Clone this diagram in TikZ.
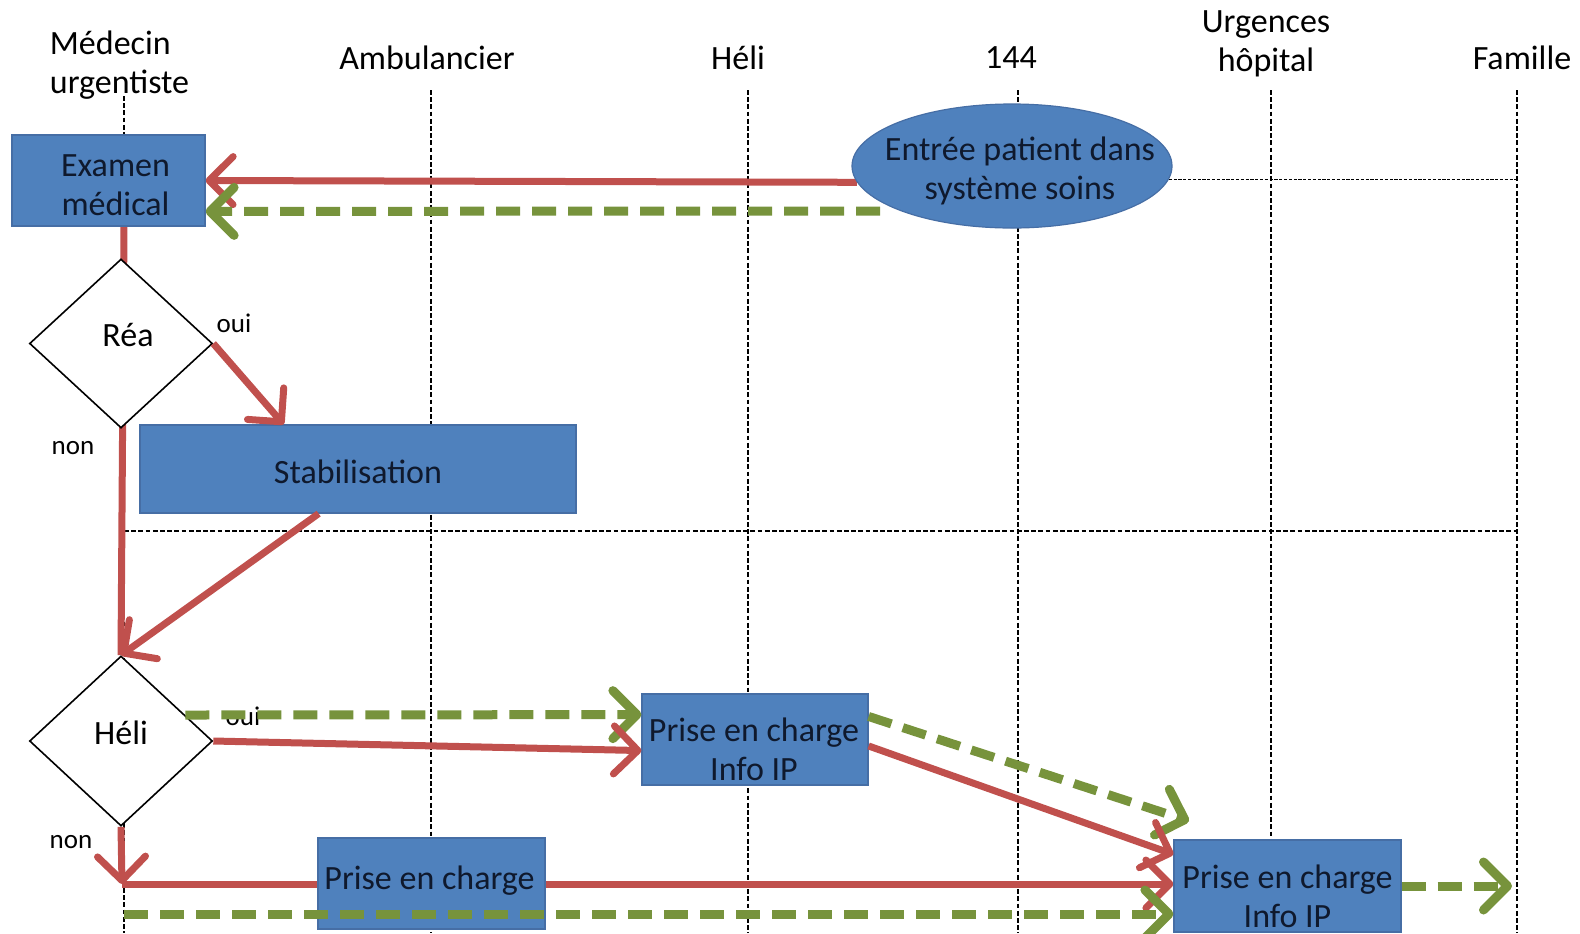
\documentclass[tikz,border=0pt]{standalone}
\usepackage{fontspec}
\setmainfont{Carlito}
\usetikzlibrary{arrows.meta,shapes.geometric,calc}
\pgfdeclarelayer{lanes}
\pgfdeclarelayer{under}
\pgfdeclarelayer{over}
\pgfsetlayers{lanes,under,main,over}
\definecolor{boxblue}{RGB}{79,129,189}
\definecolor{boxedge}{RGB}{70,110,165}
\definecolor{arrred}{RGB}{192,80,77}
\definecolor{arrgreen}{RGB}{119,147,60}
\definecolor{txtdark}{RGB}{15,25,45}
\newcommand\fbig{\fontsize{17}{19.5}\selectfont}
\newcommand\fsmall{\fontsize{13.5}{16}\selectfont}
\tikzset{
  lane/.style={black, line width=0.8pt, dash pattern=on 2.4pt off 1.2pt},
  thindot/.style={black, line width=0.65pt, dash pattern=on 1.6pt off 0.8pt},
  bluebox/.style={rectangle, fill=boxblue, draw=boxedge, line width=0.6pt, inner sep=0pt},
  blueellipse/.style={ellipse, fill=boxblue, draw=boxedge, line width=0.6pt, inner sep=0pt},
  boxtxt/.style={text=txtdark, align=center, font=\fbig, inner sep=0pt},
  dtxt/.style={text=black, align=center, font=\fbig, inner sep=0pt},
  decision/.style={diamond, draw=black, fill=white, line width=0.8pt, inner sep=0pt},
  hdr/.style={align=center, font=\fbig, inner sep=0pt, text=black},
  smalllbl/.style={font=\fsmall, inner sep=0pt, text=black},
  redln/.style={draw=arrred, line width=3.5pt},
  redarr/.style={draw=arrred, line width=3.5pt, -{Straight Barb[length=12pt,width=24pt,round]}},
  grnarr/.style={draw=arrgreen, line width=4.5pt, dash pattern=on 12pt off 6pt, -{Straight Barb[length=12pt,width=24pt,round]}}
}
\begin{document}
\begin{tikzpicture}[x=0.5pt,y=-0.5pt]
\useasboundingbox (0,0) rectangle (1580,933);
% headers
\node[hdr, align=left, anchor=west] (hmed) at (49.5,65) {Médecin\\urgentiste};
\node[hdr] (hamb) at (427,57.5) {Ambulancier};
\node[hdr] (hheli) at (738,57.5) {Héli};
\node[hdr] (h144) at (1011,57.5) {144};
\node[hdr] (hurg) at (1266,44) {Urgences\\hôpital};
\node[hdr] (hfam) at (1522,57.5) {Famille};
% lane coordinates
\coordinate (l1t) at (124,96);   \coordinate (l1b) at (124,933);
\coordinate (l2t) at (431,90);   \coordinate (l2b) at (431,933);
\coordinate (l3t) at (748,90);   \coordinate (l3b) at (748,933);
\coordinate (l4t) at (1018,90);  \coordinate (l4b) at (1018,933);
\coordinate (l5t) at (1271,90);  \coordinate (l5b) at (1271,933);
\coordinate (l6t) at (1517,90);  \coordinate (l6b) at (1517,933);
\coordinate (sepL) at (124,531); \coordinate (sepR) at (1517,531);
% nodes
\node[bluebox, minimum width=96.5pt, minimum height=45.5pt,
      label={[boxtxt, xshift=3.5pt, yshift=-2.2pt]center:{Examen\\médical}}] (exam) at (108.5,180.5) {};
\node[blueellipse, minimum width=160pt, minimum height=62pt,
      label={[boxtxt, xshift=4pt, yshift=-2.5pt]center:{Entrée patient dans\\système soins}}] (entree) at (1012,166) {};
\node[decision, minimum width=91.5pt, minimum height=84.5pt,
      label={[dtxt, xshift=3.5pt, yshift=4pt]center:{Réa}}] (rea) at (121,343.5) {};
\node[bluebox, minimum width=218pt, minimum height=44pt,
      label={[boxtxt, yshift=-1.5pt]center:{Stabilisation}}] (stab) at (358,469) {};
\node[decision, minimum width=91.5pt, minimum height=85pt,
      label={[dtxt, yshift=4pt]center:{Héli}}] (heli) at (121,741) {};
\node[bluebox, minimum width=113pt, minimum height=45.5pt,
      label={[boxtxt, xshift=-0.5pt, yshift=-5pt]center:{Prise en charge\\Info IP}}] (pic1) at (755,739.5) {};
\node[bluebox, minimum width=113.5pt, minimum height=45.5pt,
      label={[boxtxt, xshift=-1pt, yshift=1.5pt]center:{Prise en charge}}] (pic2) at (431.5,883.5) {};
\node[bluebox, minimum width=113.5pt, minimum height=46pt,
      label={[boxtxt, yshift=-5.2pt]center:{Prise en charge\\Info IP}}] (pic3) at (1287.5,886) {};
\node[smalllbl] (oui1) at (234,323) {oui};
\node[smalllbl] (non1) at (73,448) {non};
\node[smalllbl, anchor=base] (oui2) at (243,725) {oui};
\node[smalllbl] (non2) at (71,842) {non};
% free-end coordinates
\coordinate (grnstart) at (880,211);
\coordinate (corner) at (122,884);
\coordinate (gcorner) at (124,914);
\coordinate (pic3in1) at (1189,821);
\coordinate (famend) at (1512,886);
\coordinate (exambot) at (124,226);
% lanes
\begin{pgfonlayer}{lanes}
\draw[lane] (l1t) -- (l1b);
\draw[lane] (l2t) -- (l2b);
\draw[lane] (l3t) -- (l3b);
\draw[lane] (l4t) -- (l4b);
\draw[lane] (l5t) -- (l5b);
\draw[lane] (l6t) -- (l6b);
\draw[lane] (sepL) -- (sepR);
\draw[thindot] (entree.-5) -- (entree.-5 -| l6t);
\end{pgfonlayer}
% connectors under nodes
\begin{pgfonlayer}{under}
\draw[redln] (exambot) -- (heli.north);
\draw[redarr] (entree.186) -- (exam.east);
\draw[grnarr] (grnstart) -- ($(exam.north east)!0.835!(exam.south east)$);
\draw[redarr] (corner) -- (corner -| pic3.west);
\end{pgfonlayer}
% connectors over nodes
\begin{pgfonlayer}{over}
\draw[redarr] (rea.east) -- ($(stab.north west)!0.33!(stab.north east)$);
\draw[redarr] ($(stab.south west)!0.41!(stab.south east)$) -- (heli.north);
\draw[grnarr] (heli.22) -- ($(pic1.north west)!0.23!(pic1.south west)$);
\draw[redarr] (heli.east) -- ($(pic1.north west)!0.62!(pic1.south west)$);
\draw[grnarr] ($(pic1.north east)!0.25!(pic1.south east)$) -- (pic3in1);
\draw[redarr] ($(pic1.north east)!0.57!(pic1.south east)$) -- ($(pic3.north west)!0.16!(pic3.south west)$);
\draw[redarr] (heli.south) -- (corner);
\draw[grnarr] (gcorner) -- (gcorner -| pic3.west);
\draw[grnarr] (pic3.east) -- (famend);
\end{pgfonlayer}
\end{tikzpicture}
\end{document}
